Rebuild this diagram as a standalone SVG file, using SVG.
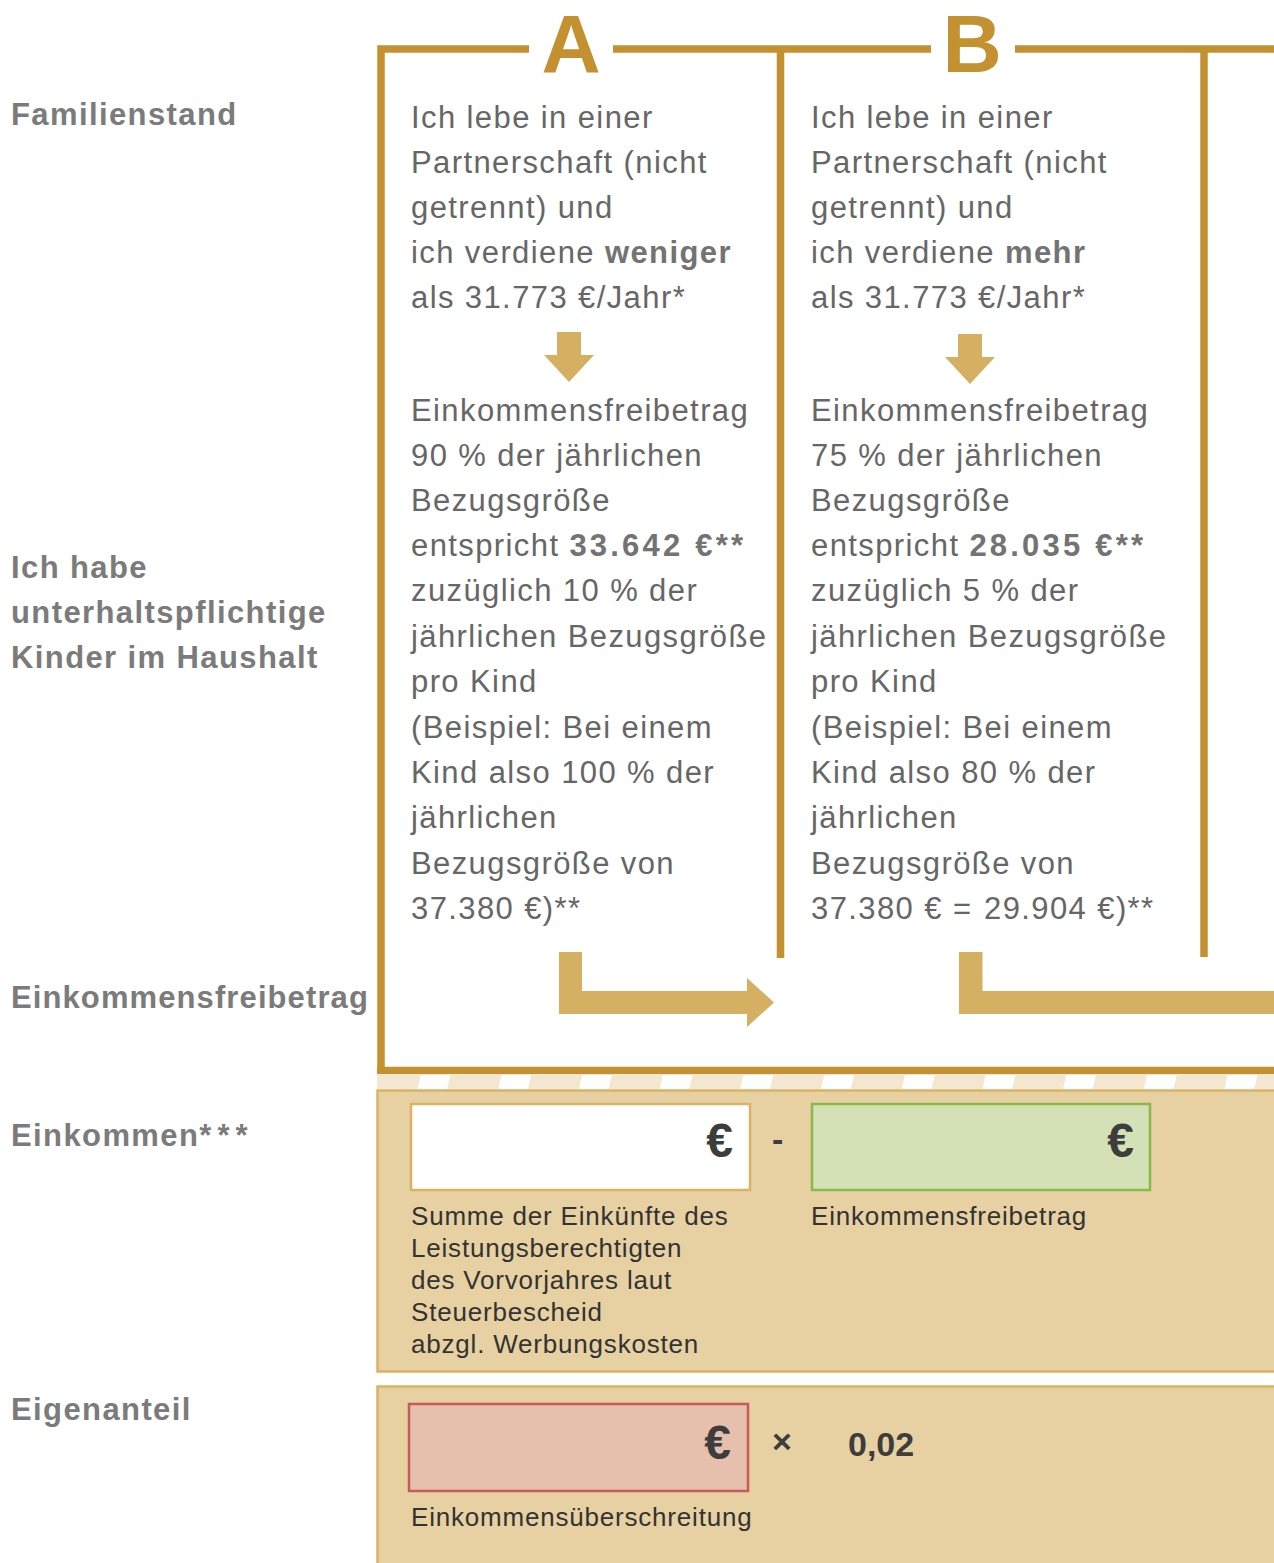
<svg xmlns="http://www.w3.org/2000/svg" width="1274" height="1563" viewBox="0 0 1274 1563">
<defs>
<style>
.lbl{font-family:"Liberation Sans",Arial,sans-serif;font-weight:bold;font-size:31px;letter-spacing:1.4px;fill:#7b7b7b}
.col{font-family:"Liberation Sans",Arial,sans-serif;font-size:31px;letter-spacing:1.4px;fill:#666666}
.col .b{font-weight:bold;fill:#737373}
.col .n{font-weight:bold;fill:#737373;letter-spacing:3.2px}
.big{font-family:"Liberation Sans",Arial,sans-serif;font-weight:bold;font-size:82px;fill:#c3912f;text-anchor:middle}
.frame{fill:none;stroke:#c3912f;stroke-width:7.5}
.arr{fill:#d5b063}
.cap{font-family:"Liberation Sans",Arial,sans-serif;font-size:26px;letter-spacing:0.8px;fill:#333333}
.eur{font-family:"Liberation Sans",Arial,sans-serif;font-weight:bold;font-size:48px;fill:#3d3d3d;text-anchor:end}
.op{font-family:"Liberation Sans",Arial,sans-serif;font-weight:bold;font-size:34px;fill:#3d3d3d}
.panel{fill:#e7d1a2;stroke:#d9b263;stroke-width:2.5}
</style>
<clipPath id="stripeClip"><rect x="377" y="1074" width="897" height="15"/></clipPath>
</defs>

<g id="labels">
<text class="lbl" x="11" y="125">Familienstand</text>
<text class="lbl" x="11" y="578">Ich habe</text>
<text class="lbl" x="11" y="623">unterhaltspflichtige</text>
<text class="lbl" x="11" y="668">Kinder im Haushalt</text>
<text class="lbl" x="11" y="1008" style="letter-spacing:1.1px">Einkommensfreibetrag</text>
<text class="lbl" x="11" y="1146">Einkommen<tspan style="letter-spacing:6px">***</tspan></text>
<text class="lbl" x="11" y="1420">Eigenanteil</text>
</g>

<g id="frame">
<path class="frame" d="M381,1074 V49 H529 M613,49 H931 M1015,49 H1274"/>
<path class="frame" d="M377,1070.5 H1274"/>
<path class="frame" d="M780.5,49 V958 M1204,49 V957"/>
<text class="big" x="571" y="72">A</text>
<text class="big" x="972" y="72">B</text>
</g>

<g id="colA" class="col">
<text x="411" y="128">Ich lebe in einer</text>
<text x="411" y="173">Partnerschaft (nicht</text>
<text x="411" y="218">getrennt) und</text>
<text x="411" y="263">ich verdiene <tspan class="b">weniger</tspan></text>
<text x="411" y="308">als 31.773 €/Jahr*</text>
<text x="411" y="421">Einkommensfreibetrag</text>
<text x="411" y="466">90 % der jährlichen</text>
<text x="411" y="511">Bezugsgröße</text>
<text x="411" y="556">entspricht <tspan class="n">33.642 €**</tspan></text>
<text x="411" y="601">zuzüglich 10 % der</text>
<text x="411" y="647">jährlichen Bezugsgröße</text>
<text x="411" y="692">pro Kind</text>
<text x="411" y="738">(Beispiel: Bei einem</text>
<text x="411" y="783">Kind also 100 % der</text>
<text x="411" y="828">jährlichen</text>
<text x="411" y="874">Bezugsgröße von</text>
<text x="411" y="919">37.380 €)**</text>
</g>

<g id="colB" class="col">
<text x="811" y="128">Ich lebe in einer</text>
<text x="811" y="173">Partnerschaft (nicht</text>
<text x="811" y="218">getrennt) und</text>
<text x="811" y="263">ich verdiene <tspan class="b">mehr</tspan></text>
<text x="811" y="308">als 31.773 €/Jahr*</text>
<text x="811" y="421">Einkommensfreibetrag</text>
<text x="811" y="466">75 % der jährlichen</text>
<text x="811" y="511">Bezugsgröße</text>
<text x="811" y="556">entspricht <tspan class="n">28.035 €**</tspan></text>
<text x="811" y="601">zuzüglich 5 % der</text>
<text x="811" y="647">jährlichen Bezugsgröße</text>
<text x="811" y="692">pro Kind</text>
<text x="811" y="738">(Beispiel: Bei einem</text>
<text x="811" y="783">Kind also 80 % der</text>
<text x="811" y="828">jährlichen</text>
<text x="811" y="874">Bezugsgröße von</text>
<text x="811" y="919">37.380 € <tspan style="letter-spacing:3px">=</tspan> 29.904 €)**</text>
</g>

<g id="connectors">
<polygon class="arr" points="557,332 581,332 581,355 594,355 569,382 544,355 557,355"/>
<polygon class="arr" points="958,334 982,334 982,357 995,357 970,384 945,357 958,357"/>
<polygon class="arr" points="559,952 582,952 582,991 747,991 747,978 774,1002.5 747,1027 747,1014 559,1014"/>
<polygon class="arr" points="959,952 982.5,952 982.5,991 1274,991 1274,1014 959,1014"/>
</g>

<g id="stripe" clip-path="url(#stripeClip)" fill="#f3e7d2">
<polygon points="370,1074 421,1074 417.5,1089 366.5,1089"/>
<polygon points="450.7,1074 501.7,1074 498.2,1089 447.2,1089"/>
<polygon points="531.4,1074 582.4,1074 578.9,1089 527.9,1089"/>
<polygon points="612.1,1074 663.1,1074 659.6,1089 608.6,1089"/>
<polygon points="692.8,1074 743.8,1074 740.3,1089 689.3,1089"/>
<polygon points="773.5,1074 824.5,1074 821,1089 770,1089"/>
<polygon points="854.2,1074 905.2,1074 901.7,1089 850.7,1089"/>
<polygon points="934.9,1074 985.9,1074 982.4,1089 931.4,1089"/>
<polygon points="1015.6,1074 1066.6,1074 1063.1,1089 1012.1,1089"/>
<polygon points="1096.3,1074 1147.3,1074 1143.8,1089 1092.8,1089"/>
<polygon points="1177,1074 1228,1074 1224.5,1089 1173.5,1089"/>
<polygon points="1257.7,1074 1308.7,1074 1305.2,1089 1254.2,1089"/>
</g>

<g id="panel-einkommen">
<rect class="panel" x="377.5" y="1090.5" width="910" height="281"/>
<rect x="411" y="1104" width="339" height="86" fill="#ffffff" stroke="#d9b263" stroke-width="2.5"/>
<text class="eur" x="733" y="1157">€</text>
<text class="op" x="772" y="1151">-</text>
<rect x="812" y="1104" width="338" height="86" fill="#d4e0b5" stroke="#8ab84a" stroke-width="2.5"/>
<text class="eur" x="1134" y="1157">€</text>
<text class="cap" x="411" y="1225">Summe der Einkünfte des</text>
<text class="cap" x="411" y="1257">Leistungsberechtigten</text>
<text class="cap" x="411" y="1289">des Vorvorjahres laut</text>
<text class="cap" x="411" y="1321">Steuerbescheid</text>
<text class="cap" x="411" y="1353">abzgl. Werbungskosten</text>
<text class="cap" x="811" y="1225">Einkommensfreibetrag</text>
</g>

<g id="panel-eigenanteil">
<rect class="panel" x="377.5" y="1386.5" width="910" height="200"/>
<rect x="409" y="1404" width="339" height="87" fill="#e6bfad" stroke="#c85a5a" stroke-width="2.5"/>
<text class="eur" x="731" y="1459">€</text>
<text class="op" x="772" y="1453">×</text>
<text class="op" x="848" y="1456">0,02</text>
<text class="cap" x="411" y="1526">Einkommensüberschreitung</text>
</g>
</svg>
